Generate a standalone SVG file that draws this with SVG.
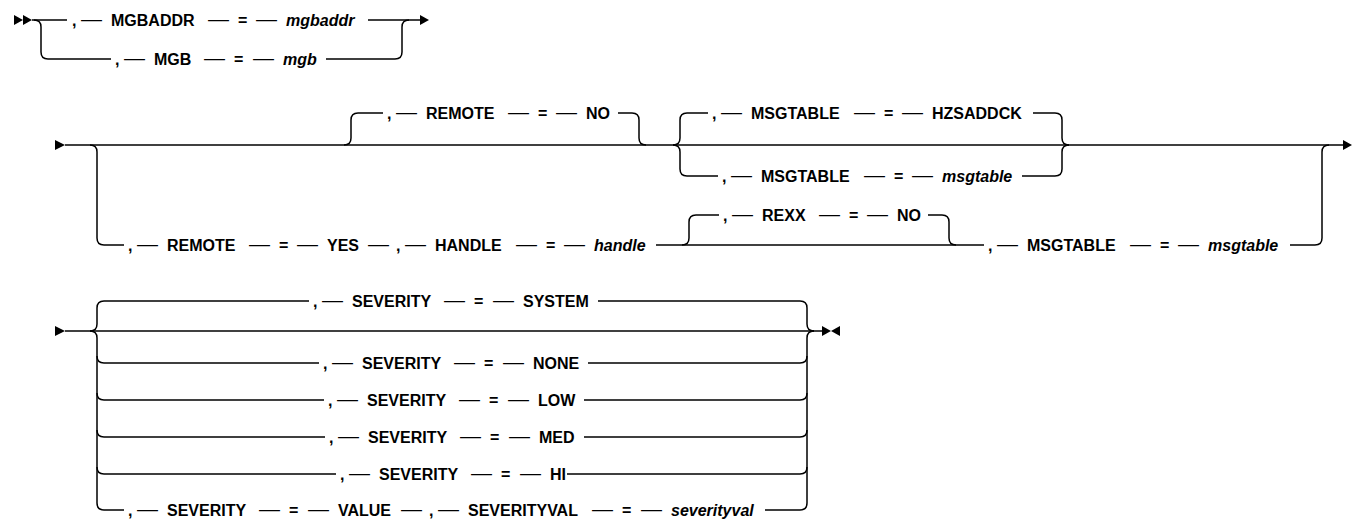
<svg xmlns="http://www.w3.org/2000/svg" width="1357" height="519" viewBox="0 0 1357 519">
<style>
text{font-family:"Liberation Sans",Arial,sans-serif;font-size:16px;font-weight:bold;fill:#000}
.d{font-size:21px;font-weight:normal}
.i{font-style:italic}
.c path,.c line{fill:none;stroke:#000;stroke-width:1.5}
.a{fill:#000}
</style>
<rect width="1357" height="519" fill="#fff"/>
<g id="connectors" class="c">
<!-- row 1 -->
<path d="M32 20 H67"/>
<path d="M34 20 Q41 20 41 27 V52 Q41 59 48 59 H111"/>
<path d="M368 20 H421"/>
<path d="M326 59 H395 Q402 59 402 52 V27 Q402 20 409 20"/>
<!-- row 2 -->
<path d="M65 145 H1344"/>
<path d="M90 145 Q97 145 97 152 V238 Q97 245 104 245 H124"/>
<path d="M344 145 Q351 145 351 138 V120 Q351 113 358 113 H383"/>
<path d="M618 113 H632 Q639 113 639 120 V138 Q639 145 646 145"/>
<path d="M673 145 Q680 145 680 138 V120 Q680 113 687 113 H708"/>
<path d="M673 145 Q680 145 680 152 V169 Q680 176 687 176 H718"/>
<path d="M1033 113 H1055 Q1062 113 1062 120 V138 Q1062 145 1069 145"/>
<path d="M1022 176 H1055 Q1062 176 1062 169 V152 Q1062 145 1069 145"/>
<path d="M656 245 H984"/>
<path d="M682 245 Q689 245 689 238 V222 Q689 215 696 215 H719"/>
<path d="M928 215 H942 Q949 215 949 222 V238 Q949 245 956 245"/>
<path d="M1290 245 H1315 Q1322 245 1322 238 V152 Q1322 145 1329 145"/>
<!-- row 3 -->
<path d="M65 331 H823"/>
<path d="M90 331 Q97 331 97 324 V308 Q97 301 104 301 H309"/>
<path d="M90 331 Q97 331 97 338 V503 Q97 510 104 510 H124"/>
<path d="M97 356 Q97 363 104 363 H319"/>
<path d="M97 393 Q97 400 104 400 H324"/>
<path d="M97 430 Q97 437 104 437 H325"/>
<path d="M97 467 Q97 474 104 474 H336"/>
<path d="M598 301 H800 Q807 301 807 308 V324 Q807 331 814 331"/>
<path d="M765 510 H800 Q807 510 807 503 V338 Q807 331 814 331"/>
<path d="M588 363 H800 Q807 363 807 356"/>
<path d="M584 400 H800 Q807 400 807 393"/>
<path d="M584 437 H800 Q807 437 807 430"/>
<path d="M567 474 H800 Q807 474 807 467"/>
</g>
<g id="markers">
<polygon class="a" points="14,15 14,25 23,20"/>
<polygon class="a" points="23,15 23,25 32,20"/>
<polygon class="a" points="420,15 420,25 429,20"/>
<polygon class="a" points="55,140 55,150 65,145"/>
<polygon class="a" points="1343,140 1343,150 1352,145"/>
<polygon class="a" points="55,326 55,336 65,331"/>
<polygon class="a" points="822,326 822,336 831,331"/>
<polygon class="a" points="840,326 840,336 831,331"/>
</g>
<g id="mgbaddr"><text y="26"><tspan x="72">,</tspan><tspan class="d" x="81">—</tspan><tspan x="111">MGBADDR</tspan><tspan class="d" x="208">—</tspan><tspan x="238">=</tspan><tspan class="d" x="256">—</tspan><tspan class="i" x="286">mgbaddr</tspan></text></g>
<g id="mgb"><text y="65"><tspan x="115">,</tspan><tspan class="d" x="124">—</tspan><tspan x="154">MGB</tspan><tspan class="d" x="204">—</tspan><tspan x="234">=</tspan><tspan class="d" x="253">—</tspan><tspan class="i" x="283">mgb</tspan></text></g>
<g id="remote-no"><text y="119"><tspan x="387">,</tspan><tspan class="d" x="396">—</tspan><tspan x="426">REMOTE</tspan><tspan class="d" x="508">—</tspan><tspan x="538">=</tspan><tspan class="d" x="556">—</tspan><tspan x="586">NO</tspan></text></g>
<g id="msgtable-default"><text y="119"><tspan x="712">,</tspan><tspan class="d" x="721">—</tspan><tspan x="751">MSGTABLE</tspan><tspan class="d" x="854">—</tspan><tspan x="884">=</tspan><tspan class="d" x="902">—</tspan><tspan x="932">HZSADDCK</tspan></text></g>
<g id="msgtable-value"><text y="182"><tspan x="722">,</tspan><tspan class="d" x="731">—</tspan><tspan x="761">MSGTABLE</tspan><tspan class="d" x="864">—</tspan><tspan x="894">=</tspan><tspan class="d" x="912">—</tspan><tspan class="i" x="942">msgtable</tspan></text></g>
<g id="remote-yes"><text y="251"><tspan x="128">,</tspan><tspan class="d" x="137">—</tspan><tspan x="167">REMOTE</tspan><tspan class="d" x="249">—</tspan><tspan x="279">=</tspan><tspan class="d" x="297">—</tspan><tspan x="327">YES</tspan><tspan class="d" x="368">—</tspan><tspan x="396">,</tspan><tspan class="d" x="405">—</tspan><tspan x="435">HANDLE</tspan><tspan class="d" x="516">—</tspan><tspan x="546">=</tspan><tspan class="d" x="564">—</tspan><tspan class="i" x="594">handle</tspan></text></g>
<g id="rexx"><text y="221"><tspan x="723">,</tspan><tspan class="d" x="732">—</tspan><tspan x="762">REXX</tspan><tspan class="d" x="819">—</tspan><tspan x="849">=</tspan><tspan class="d" x="867">—</tspan><tspan x="897">NO</tspan></text></g>
<g id="msgtable-remote"><text y="251"><tspan x="988">,</tspan><tspan class="d" x="997">—</tspan><tspan x="1027">MSGTABLE</tspan><tspan class="d" x="1130">—</tspan><tspan x="1160">=</tspan><tspan class="d" x="1178">—</tspan><tspan class="i" x="1208">msgtable</tspan></text></g>
<g id="sev-system"><text y="307"><tspan x="313">,</tspan><tspan class="d" x="322">—</tspan><tspan x="352">SEVERITY</tspan><tspan class="d" x="444">—</tspan><tspan x="474">=</tspan><tspan class="d" x="493">—</tspan><tspan x="523">SYSTEM</tspan></text></g>
<g id="sev-none"><text y="369"><tspan x="323">,</tspan><tspan class="d" x="332">—</tspan><tspan x="362">SEVERITY</tspan><tspan class="d" x="454">—</tspan><tspan x="484">=</tspan><tspan class="d" x="503">—</tspan><tspan x="533">NONE</tspan></text></g>
<g id="sev-low"><text y="406"><tspan x="328">,</tspan><tspan class="d" x="337">—</tspan><tspan x="367">SEVERITY</tspan><tspan class="d" x="459">—</tspan><tspan x="489">=</tspan><tspan class="d" x="508">—</tspan><tspan x="538">LOW</tspan></text></g>
<g id="sev-med"><text y="443"><tspan x="329">,</tspan><tspan class="d" x="338">—</tspan><tspan x="368">SEVERITY</tspan><tspan class="d" x="460">—</tspan><tspan x="490">=</tspan><tspan class="d" x="509">—</tspan><tspan x="539">MED</tspan></text></g>
<g id="sev-hi"><text y="480"><tspan x="340">,</tspan><tspan class="d" x="349">—</tspan><tspan x="379">SEVERITY</tspan><tspan class="d" x="471">—</tspan><tspan x="501">=</tspan><tspan class="d" x="520">—</tspan><tspan x="550">HI</tspan></text></g>
<g id="sev-value"><text y="516"><tspan x="128">,</tspan><tspan class="d" x="137">—</tspan><tspan x="167">SEVERITY</tspan><tspan class="d" x="259">—</tspan><tspan x="289">=</tspan><tspan class="d" x="308">—</tspan><tspan x="338">VALUE</tspan><tspan class="d" x="401">—</tspan><tspan x="429">,</tspan><tspan class="d" x="438">—</tspan><tspan x="468">SEVERITYVAL</tspan><tspan class="d" x="592">—</tspan><tspan x="622">=</tspan><tspan class="d" x="641">—</tspan><tspan class="i" x="671">severityval</tspan></text></g>
</svg>
